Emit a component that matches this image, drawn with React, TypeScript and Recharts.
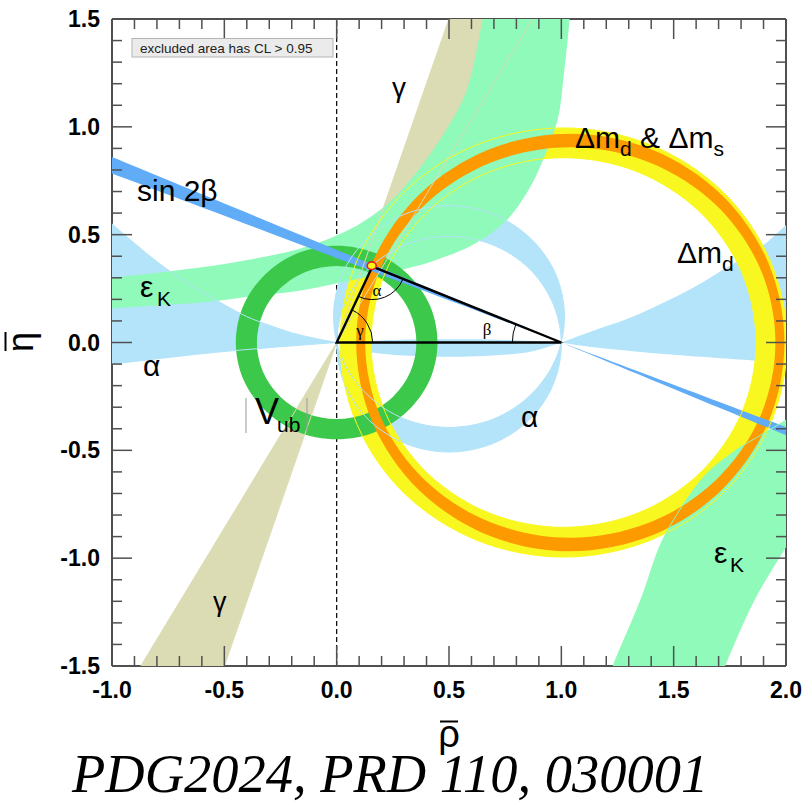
import { ScatterChart, Scatter, XAxis, YAxis, ReferenceLine } from 'recharts'

type Pt = { x: number; y: number }

// axis ticks (every 0.1, labelled every 0.5)
const xTicks = [-1, -0.9, -0.8, -0.7, -0.6, -0.5, -0.4, -0.3, -0.2, -0.1, 0, 0.1, 0.2, 0.3, 0.4, 0.5, 0.6, 0.7, 0.8, 0.9, 1, 1.1, 1.2, 1.3, 1.4, 1.5, 1.6, 1.7, 1.8, 1.9, 2]
const yTicks = [-1.5, -1.4, -1.3, -1.2, -1.1, -1, -0.9, -0.8, -0.7, -0.6, -0.5, -0.4, -0.3, -0.2, -0.1, 0, 0.1, 0.2, 0.3, 0.4, 0.5, 0.6, 0.7, 0.8, 0.9, 1, 1.1, 1.2, 1.3, 1.4, 1.5]
const majorTicks = [-1.5, -1, -0.5, 0, 0.5, 1, 1.5, 2]

// alpha: two circles through (0,0) and (1,0), crescents between them
const alphaCircleA: Pt[] = [
  { x: 1.014, y: 0.12 }, { x: 0.975, y: 0.317 }, { x: 0.863, y: 0.483 }, { x: 0.697, y: 0.595 },
  { x: 0.5, y: 0.634 }, { x: 0.303, y: 0.595 }, { x: 0.137, y: 0.483 }, { x: 0.025, y: 0.317 },
  { x: -0.014, y: 0.12 }, { x: 0.025, y: -0.077 }, { x: 0.137, y: -0.243 }, { x: 0.303, y: -0.355 },
  { x: 0.5, y: -0.394 }, { x: 0.697, y: -0.355 }, { x: 0.863, y: -0.243 }, { x: 0.975, y: -0.077 },
]
const alphaCircleB: Pt[] = [
  { x: 1.0, y: -0.008 }, { x: 0.962, y: 0.183 }, { x: 0.854, y: 0.346 }, { x: 0.691, y: 0.454 },
  { x: 0.5, y: 0.492 }, { x: 0.309, y: 0.454 }, { x: 0.146, y: 0.346 }, { x: 0.038, y: 0.183 },
  { x: 0.0, y: -0.008 }, { x: 0.038, y: -0.199 }, { x: 0.146, y: -0.362 }, { x: 0.309, y: -0.47 },
  { x: 0.5, y: -0.508 }, { x: 0.691, y: -0.47 }, { x: 0.854, y: -0.362 }, { x: 0.962, y: -0.199 },
]
const alphaLeft: Pt[] = [
  { x: 0, y: 0 }, { x: -0.1, y: 0.02 }, { x: -0.2, y: 0.045 }, { x: -0.3, y: 0.08 }, { x: -0.4, y: 0.12 },
  { x: -0.5, y: 0.175 }, { x: -0.6, y: 0.235 }, { x: -0.7, y: 0.3 }, { x: -0.8, y: 0.375 }, { x: -0.9, y: 0.46 },
  { x: -1, y: 0.55 }, { x: -1.1, y: 0.64 }, { x: -1.1, y: -0.11 }, { x: -1, y: -0.1 },
  { x: -0.6, y: -0.052 }, { x: -0.3, y: -0.024 },
]
const alphaMid: Pt[] = [
  { x: 0, y: 0 }, { x: 0.25, y: 0.012 }, { x: 0.5, y: 0.015 }, { x: 0.75, y: 0.012 }, { x: 1, y: 0 },
  { x: 0.85, y: -0.045 }, { x: 0.65, y: -0.063 }, { x: 0.5, y: -0.066 }, { x: 0.35, y: -0.063 }, { x: 0.15, y: -0.045 },
]
const alphaRight: Pt[] = [
  { x: 1, y: 0 }, { x: 1.145, y: 0.056 }, { x: 1.294, y: 0.11 }, { x: 1.442, y: 0.179 }, { x: 1.59, y: 0.256 },
  { x: 1.739, y: 0.349 }, { x: 1.887, y: 0.442 }, { x: 2.0, y: 0.545 }, { x: 2.1, y: 0.64 }, { x: 2.1, y: -0.105 },
  { x: 2.0, y: -0.098 }, { x: 1.85, y: -0.083 }, { x: 1.442, y: -0.052 }, { x: 1.145, y: -0.022 },
]

// gamma wedges from the origin
const gammaUp: Pt[] = [{ x: 0, y: 0 }, { x: 0.533, y: 1.6 }, { x: 0.93, y: 1.6 }]
const gammaDown: Pt[] = [{ x: 0, y: 0 }, { x: -0.93, y: -1.6 }, { x: -0.533, y: -1.6 }]

// |Vub| ring around the origin
const vubOuter: Pt[] = [
  { x: 0.449, y: 0 }, { x: 0.415, y: 0.172 }, { x: 0.317, y: 0.317 }, { x: 0.172, y: 0.415 },
  { x: 0, y: 0.449 }, { x: -0.172, y: 0.415 }, { x: -0.317, y: 0.317 }, { x: -0.415, y: 0.172 },
  { x: -0.449, y: 0 }, { x: -0.415, y: -0.172 }, { x: -0.317, y: -0.317 }, { x: -0.172, y: -0.415 },
  { x: 0, y: -0.449 }, { x: 0.172, y: -0.415 }, { x: 0.317, y: -0.317 }, { x: 0.415, y: -0.172 },
]
const vubInner: Pt[] = [
  { x: 0.355, y: 0 }, { x: 0.328, y: 0.136 }, { x: 0.251, y: 0.251 }, { x: 0.136, y: 0.328 },
  { x: 0, y: 0.355 }, { x: -0.136, y: 0.328 }, { x: -0.251, y: 0.251 }, { x: -0.328, y: 0.136 },
  { x: -0.355, y: 0 }, { x: -0.328, y: -0.136 }, { x: -0.251, y: -0.251 }, { x: -0.136, y: -0.328 },
  { x: 0, y: -0.355 }, { x: 0.136, y: -0.328 }, { x: 0.251, y: -0.251 }, { x: 0.328, y: -0.136 },
]

// Delta m_d ring (yellow)
const dmdOuter: Pt[] = [
  { x: 2.005, y: 0 }, { x: 1.929, y: 0.381 }, { x: 1.714, y: 0.704 }, { x: 1.391, y: 0.919 },
  { x: 1.01, y: 0.995 }, { x: 0.629, y: 0.919 }, { x: 0.306, y: 0.704 }, { x: 0.091, y: 0.381 },
  { x: 0.015, y: 0 }, { x: 0.091, y: -0.381 }, { x: 0.306, y: -0.704 }, { x: 0.629, y: -0.919 },
  { x: 1.01, y: -0.995 }, { x: 1.391, y: -0.919 }, { x: 1.714, y: -0.704 }, { x: 1.929, y: -0.381 },
]
const dmdInner: Pt[] = [
  { x: 1.867, y: 0 }, { x: 1.802, y: 0.328 }, { x: 1.616, y: 0.606 }, { x: 1.338, y: 0.792 },
  { x: 1.01, y: 0.857 }, { x: 0.682, y: 0.792 }, { x: 0.404, y: 0.606 }, { x: 0.218, y: 0.328 },
  { x: 0.153, y: 0 }, { x: 0.218, y: -0.328 }, { x: 0.404, y: -0.606 }, { x: 0.682, y: -0.792 },
  { x: 1.01, y: -0.857 }, { x: 1.338, y: -0.792 }, { x: 1.616, y: -0.606 }, { x: 1.802, y: -0.328 },
]

// Delta m_d & Delta m_s ring (orange)
const dmsOuter: Pt[] = [
  { x: 1.993, y: 0 }, { x: 1.921, y: 0.37 }, { x: 1.714, y: 0.684 }, { x: 1.405, y: 0.894 },
  { x: 1.04, y: 0.968 }, { x: 0.675, y: 0.894 }, { x: 0.366, y: 0.684 }, { x: 0.159, y: 0.37 },
  { x: 0.087, y: 0 }, { x: 0.159, y: -0.37 }, { x: 0.366, y: -0.684 }, { x: 0.675, y: -0.894 },
  { x: 1.04, y: -0.968 }, { x: 1.405, y: -0.894 }, { x: 1.714, y: -0.684 }, { x: 1.921, y: -0.37 },
]
const dmsInner: Pt[] = [
  { x: 1.953, y: 0 }, { x: 1.884, y: 0.346 }, { x: 1.686, y: 0.64 }, { x: 1.39, y: 0.836 },
  { x: 1.04, y: 0.905 }, { x: 0.69, y: 0.836 }, { x: 0.394, y: 0.64 }, { x: 0.196, y: 0.346 },
  { x: 0.127, y: 0 }, { x: 0.196, y: -0.346 }, { x: 0.394, y: -0.64 }, { x: 0.69, y: -0.836 },
  { x: 1.04, y: -0.905 }, { x: 1.39, y: -0.836 }, { x: 1.686, y: -0.64 }, { x: 1.884, y: -0.346 },
]

// epsilon_K hyperbolic bands
const epsUpper: Pt[] = [
  { x: -1.1, y: 0.295 }, { x: -1, y: 0.301 }, { x: -0.75, y: 0.329 }, { x: -0.46, y: 0.371 },
  { x: -0.16, y: 0.436 }, { x: 0.05, y: 0.52 }, { x: 0.2, y: 0.62 }, { x: 0.3, y: 0.72 },
  { x: 0.418, y: 0.876 }, { x: 0.538, y: 1.076 }, { x: 0.596, y: 1.23 }, { x: 0.65, y: 1.5 }, { x: 0.665, y: 1.6 },
  { x: 1.04, y: 1.6 }, { x: 1.037, y: 1.5 }, { x: 1.01, y: 1.23 }, { x: 0.983, y: 1.03 },
  { x: 0.92, y: 0.85 }, { x: 0.85, y: 0.7 }, { x: 0.75, y: 0.56 }, { x: 0.6, y: 0.45 },
  { x: 0.42, y: 0.375 }, { x: 0.27, y: 0.334 }, { x: 0.06, y: 0.287 }, { x: -0.16, y: 0.241 },
  { x: -0.383, y: 0.213 }, { x: -0.605, y: 0.185 }, { x: -1, y: 0.158 }, { x: -1.1, y: 0.153 },
]
const epsLower: Pt[] = [
  { x: 2.1, y: -0.3 }, { x: 2.0, y: -0.36 }, { x: 1.887, y: -0.43 }, { x: 1.77, y: -0.505 },
  { x: 1.62, y: -0.64 }, { x: 1.457, y: -0.903 }, { x: 1.353, y: -1.196 }, { x: 1.234, y: -1.49 }, { x: 1.2, y: -1.6 },
  { x: 1.7, y: -1.6 }, { x: 1.731, y: -1.49 }, { x: 1.857, y: -1.196 }, { x: 1.998, y: -0.949 }, { x: 2.1, y: -0.78 },
]

// sin 2beta band, pinched at (1,0)
const sin2b: Pt[] = [
  { x: -1.1, y: 0.903 }, { x: 1, y: 0 }, { x: 2.1, y: -0.473 },
  { x: 2.1, y: -0.431 }, { x: 1, y: 0 }, { x: -1.1, y: 0.823 },
]

// unitarity triangle and fit point
const triangle: Pt[] = [{ x: 0, y: 0 }, { x: 1, y: 0 }, { x: 0.159, y: 0.352 }]
const apexFit: Pt[] = [{ x: 0.156, y: 0.356 }]
const gammaArc: Pt[] = [{ x: 0, y: 0 }, { x: 1, y: 0 }, { x: 0.159, y: 0.352 }]
const alphaArc: Pt[] = [{ x: 0.159, y: 0.352 }, { x: 0, y: 0 }, { x: 1, y: 0 }]
const betaArc: Pt[] = [{ x: 1, y: 0 }, { x: 0, y: 0 }, { x: 0.159, y: 0.352 }]

const AX = '#505050'
const SANS = '"Liberation Sans", Arial, sans-serif'
const SERIF = '"Liberation Serif", "Times New Roman", serif'
const C_ALPHA = '#b4e4fa'
const C_GAMMA = '#dcdcb4'
const C_EPS = '#8ffab9'
const C_VUB = '#3cc84a'
const C_DMD = '#f8f820'
const C_DMS = '#fd9a00'
const C_S2B = '#61acf7'

const isMajor = (v: number) => majorTicks.some(m => Math.abs(m - v) < 1e-6)

function BottomTick({ x, y, payload }: any) {
  const major = isMajor(payload.value)
  return (
    <g>
      <line x1={x} x2={x} y1={y} y2={y - (major ? 20 : 10)} stroke={AX} strokeWidth={1.5} />
      {major && (
        <text x={x} y={y + 32} textAnchor="middle" fontFamily={SANS} fontWeight="bold" fontSize={23} fill="#000">
          {payload.value.toFixed(1)}
        </text>
      )}
    </g>
  )
}
function TopTick({ x, y, payload }: any) {
  const major = isMajor(payload.value)
  return <line x1={x} x2={x} y1={y} y2={y + (major ? 20 : 10)} stroke={AX} strokeWidth={1.5} />
}
function LeftTick({ x, y, payload }: any) {
  const major = isMajor(payload.value)
  return (
    <g>
      <line x1={x} x2={x + (major ? 20 : 10)} y1={y} y2={y} stroke={AX} strokeWidth={1.5} />
      {major && (
        <text x={100} y={y + 8} textAnchor="end" fontFamily={SANS} fontWeight="bold" fontSize={23} fill="#000">
          {payload.value.toFixed(1)}
        </text>
      )}
    </g>
  )
}
function RightTick({ x, y, payload }: any) {
  const major = isMajor(payload.value)
  return <line x1={x} x2={x - (major ? 20 : 10)} y1={y} y2={y} stroke={AX} strokeWidth={1.5} />
}

// closed Catmull-Rom loop through the scaled points; corner vertices stay sharp
function loopPath(pts: Pt[], corner: (i: number) => boolean) {
  const n = pts.length
  if (n < 2) return ''
  let d = `M${pts[0].x},${pts[0].y}`
  for (let i = 0; i < n; i++) {
    const p0 = pts[(i - 1 + n) % n], p1 = pts[i], p2 = pts[(i + 1) % n], p3 = pts[(i + 2) % n]
    const c1 = corner(i) ? p1 : { x: p1.x + (p2.x - p0.x) / 6, y: p1.y + (p2.y - p0.y) / 6 }
    const c2 = corner((i + 1) % n) ? p2 : { x: p2.x - (p3.x - p1.x) / 6, y: p2.y - (p3.y - p1.y) / 6 }
    d += `C${c1.x},${c1.y} ${c2.x},${c2.y} ${p2.x},${p2.y}`
  }
  return d + 'Z'
}

function buildPath(pts: Pt[], sizes: number[], corners: number[][] | 'all') {
  let d = ''
  let start = 0
  sizes.forEach((n, k) => {
    const cs = corners === 'all' ? null : corners[k] || []
    d += loopPath(pts.slice(start, start + n), i => cs === null || cs.includes(i))
    start += n
  })
  return d
}

function region(sizes: number[], fill: string, corners: number[][] | 'all' = []) {
  return (props: any) => (
    <path d={buildPath(props.points || [], sizes, corners)} fill={fill} fillRule="evenodd" stroke="none" />
  )
}

// thin border of a region, drawn again on top of the later layers
function edges(sizes: number[], stroke: string, corners: number[][] | 'all' = []) {
  return (props: any) => (
    <path d={buildPath(props.points || [], sizes, corners)} fill="none" stroke={stroke} strokeWidth={1} />
  )
}

function outline(props: any) {
  const pts: Pt[] = props.points || []
  if (!pts.length) return <g />
  const d = pts.map((p, i) => `${i ? 'L' : 'M'}${p.x},${p.y}`).join('') + 'Z'
  return <path d={d} fill="none" stroke="#000" strokeWidth={2.4} strokeLinejoin="miter" />
}

function angleArc(r: number) {
  return (props: any) => {
    const pts: Pt[] = props.points || []
    if (pts.length < 3) return <g />
    const [v, a, b] = pts
    const a1 = Math.atan2(a.y - v.y, a.x - v.x)
    const a2 = Math.atan2(b.y - v.y, b.x - v.x)
    let diff = a2 - a1
    while (diff > Math.PI) diff -= 2 * Math.PI
    while (diff < -Math.PI) diff += 2 * Math.PI
    const s = { x: v.x + r * Math.cos(a1), y: v.y + r * Math.sin(a1) }
    const e = { x: v.x + r * Math.cos(a2), y: v.y + r * Math.sin(a2) }
    return <path d={`M${s.x},${s.y}A${r},${r} 0 0 ${diff > 0 ? 1 : 0} ${e.x},${e.y}`} fill="none" stroke="#000" strokeWidth={1} />
  }
}

const noDot = () => <g />
const fitDot = (p: any) => (
  <ellipse cx={p.cx} cy={p.cy} rx={4.5} ry={3.8} fill="#f8f820" stroke="#e8201a" strokeWidth={1.6} />
)

const ring = (a: Pt[], b: Pt[]) => [...a, ...b]

export default function App() {
  const common = { xAxisId: 'b', yAxisId: 'l', isAnimationActive: false, shape: noDot, legendType: 'none' as const }
  return (
    <div style={{ position: 'absolute', left: 0, top: 0, width: 805, height: 804, background: '#fff' }}>
      <ScatterChart width={805} height={804} margin={{ top: 0, right: 0, bottom: 0, left: 0 }}>
        <XAxis xAxisId="b" type="number" dataKey="x" domain={[-1, 2]} allowDataOverflow ticks={xTicks} interval={0}
          height={138} tickSize={0} tickMargin={0} tickLine={false} axisLine={{ stroke: AX, strokeWidth: 2 }} tick={<BottomTick />} />
        <XAxis xAxisId="t" orientation="top" type="number" dataKey="x" domain={[-1, 2]} allowDataOverflow ticks={xTicks} interval={0}
          height={19} tickSize={0} tickMargin={0} tickLine={false} axisLine={{ stroke: AX, strokeWidth: 2 }} tick={<TopTick />} />
        <YAxis yAxisId="l" type="number" dataKey="y" domain={[-1.5, 1.5]} allowDataOverflow ticks={yTicks} interval={0}
          width={112} tickSize={0} tickMargin={0} tickLine={false} axisLine={{ stroke: AX, strokeWidth: 2 }} tick={<LeftTick />} />
        <YAxis yAxisId="r" orientation="right" type="number" dataKey="y" domain={[-1.5, 1.5]} allowDataOverflow ticks={yTicks} interval={0}
          width={19} tickSize={0} tickMargin={0} tickLine={false} axisLine={{ stroke: AX, strokeWidth: 2 }} tick={<RightTick />} />

        <Scatter {...common} name="alpha crescents" data={ring(alphaCircleA, alphaCircleB)} line={region([16, 16], C_ALPHA)} />
        <Scatter {...common} name="alpha left" data={alphaLeft} line={region([16], C_ALPHA, [[0, 11, 12]])} />
        <Scatter {...common} name="alpha mid" data={alphaMid} line={region([10], C_ALPHA, [[0, 4]])} />
        <Scatter {...common} name="alpha right" data={alphaRight} line={region([14], C_ALPHA, [[0, 8, 9]])} />
        <Scatter {...common} name="gamma" data={[...gammaUp, ...gammaDown]} line={region([3, 3], C_GAMMA, 'all')} />
        <Scatter {...common} name="dmd" data={ring(dmdOuter, dmdInner)} line={region([16, 16], C_DMD)} />
        <Scatter {...common} name="epsK upper" data={epsUpper} line={region([29], C_EPS, [[0, 12, 13, 28]])} />
        <Scatter {...common} name="epsK lower" data={epsLower} line={region([14], C_EPS, [[0, 8, 9, 13]])} />
        <Scatter {...common} name="Vub" data={ring(vubOuter, vubInner)} line={region([16, 16], C_VUB)} />
        <Scatter {...common} name="dms" data={ring(dmsOuter, dmsInner)} line={region([16, 16], C_DMS)} />
        <Scatter {...common} name="sin2beta" data={sin2b} line={region([6], C_S2B, 'all')} />

        <Scatter {...common} name="alpha crescent edges" data={ring(alphaCircleA, alphaCircleB)} line={edges([16, 16], C_ALPHA)} />
        <Scatter {...common} name="alpha left edges" data={alphaLeft} line={edges([16], C_ALPHA, [[0, 11, 12]])} />
        <Scatter {...common} name="gamma edges" data={[...gammaUp, ...gammaDown]} line={edges([3, 3], C_GAMMA, 'all')} />
        <Scatter {...common} name="dmd edges" data={ring(dmdOuter, dmdInner)} line={edges([16, 16], C_DMD)} />
        <Scatter {...common} name="epsK lower edges" data={epsLower} line={edges([14], C_EPS, [[0, 8, 9, 13]])} />

        <ReferenceLine xAxisId="b" yAxisId="l" x={0} stroke="#000" strokeWidth={1.2} strokeDasharray="5 3" />
        <ReferenceLine xAxisId="b" yAxisId="l" y={0} stroke="#000" strokeWidth={1.2} strokeDasharray="5 3" />

        <Scatter {...common} name="triangle" data={triangle} line={outline} />
        <Scatter {...common} name="gamma arc" data={gammaArc} line={angleArc(36)} />
        <Scatter {...common} name="alpha arc" data={alphaArc} line={angleArc(33)} />
        <Scatter {...common} name="beta arc" data={betaArc} line={angleArc(49)} />
        <Scatter {...common} name="fit" data={apexFit} shape={fitDot} />
      </ScatterChart>

      <svg width={805} height={804} style={{ position: 'absolute', left: 0, top: 0, pointerEvents: 'none' }}>
        <rect x={132} y={38.5} width={201} height={18.5} fill="#ebebeb" stroke="#b4b4b4" strokeWidth={1} />
        <text x={140} y={52.5} fontFamily={SANS} fontSize={13.5} fill="#222">excluded area has CL &gt; 0.95</text>

        <g fontFamily={SANS} fill="#000">
          <text x={137} y={201} fontSize={30}>sin 2β</text>
          <text x={140} y={297} fontSize={30}>ε</text>
          <text x={157} y={306} fontSize={21}>K</text>
          <text x={143} y={376} fontSize={30}>α</text>
          <line x1={246} x2={246} y1={398} y2={433} stroke="#999" strokeWidth={1} />
          <line x1={307} x2={307} y1={398} y2={433} stroke="#999" strokeWidth={1} />
          <text x={255} y={424} fontSize={36}>V</text>
          <text x={277} y={432} fontSize={21}>ub</text>
          <text x={392} y={97} fontSize={28}>γ</text>
          <text x={213} y={611} fontSize={27}>γ</text>
          <text x={575} y={148} fontSize={30}>Δm<tspan fontSize={21} dy={8}>d</tspan><tspan dy={-8}> &amp; Δm</tspan><tspan fontSize={21} dy={8}>s</tspan></text>
          <text x={677} y={263} fontSize={30}>Δm<tspan fontSize={21} dy={8}>d</tspan></text>
          <text x={521} y={427} fontSize={30}>α</text>
          <text x={714} y={563} fontSize={30}>ε</text>
          <text x={730} y={572} fontSize={21}>K</text>
        </g>

        <g fontFamily={SERIF} fill="#000" fontSize={17} textAnchor="middle">
          <text x={377} y={296}>α</text>
          <text x={360} y={336}>γ</text>
          <text x={487} y={335}>β</text>
        </g>

        <text x={449} y={747} textAnchor="middle" fontFamily={SANS} fontSize={38} fill="#000">ρ</text>
        <line x1={440} x2={458} y1={721.5} y2={721.5} stroke="#000" strokeWidth={2} />
        <text transform="translate(33,342) rotate(-90)" textAnchor="middle" fontFamily={SANS} fontSize={36} fill="#000">η</text>
        <line x1={5.5} x2={5.5} y1={332} y2={351} stroke="#000" strokeWidth={2} />

        <text x={72} y={792} fontFamily={SERIF} fontStyle="italic" fontSize={54.5} fill="#000">PDG2024, PRD 110, 030001</text>
      </svg>
    </div>
  )
}
